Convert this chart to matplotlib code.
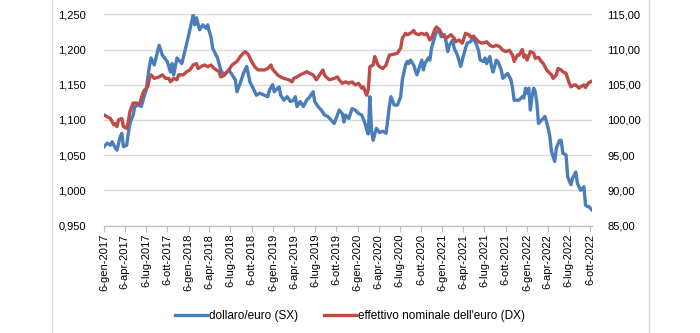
import matplotlib
matplotlib.use("Agg")
import matplotlib.pyplot as plt
from matplotlib.lines import Line2D
from matplotlib.ticker import FuncFormatter
import pandas as pd

# weeks since 6-gen-2017
start = pd.Timestamp("2017-01-06")

blue_weeks = [0, 2, 4, 5, 7, 8, 10, 11, 12, 14, 15, 16, 18, 19, 21, 23, 25, 26, 27, 28,
              29, 31, 34, 36, 39, 41, 42, 43, 45, 48, 50, 52, 55, 56, 57, 59, 61, 63, 64, 65,
              66, 67, 70, 72, 74, 77, 79, 81, 82, 84, 86, 88, 90, 92, 94, 96, 99, 101, 102, 104,
              105, 108, 109, 111, 113, 115, 117, 118, 119, 121, 123, 125, 127, 129, 130, 132, 134, 136, 138, 140,
              142, 144, 145, 147, 148, 149, 151, 153, 155, 157, 159, 161, 162, 163, 164, 165, 166, 168, 170, 172,
              174, 176, 177, 179, 181, 183, 184, 186, 187, 188, 189, 191, 193, 194, 196, 197, 198, 200, 201, 202,
              204, 205, 207, 208, 210, 211, 212, 213, 215, 216, 218, 220, 221, 223, 224, 226, 227, 229, 231, 232,
              234, 235, 236, 238, 239, 240, 242, 243, 245, 246, 248, 249, 251, 252, 253, 255, 256, 258, 259, 260,
              261, 262, 263, 264, 265, 266, 267, 268, 270, 271, 272, 274, 275, 276, 278, 279, 281, 282, 283, 285,
              286, 288, 289, 291, 292, 294, 295, 296, 297, 298, 299, 301]
dollaro_euro = [1.062, 1.067, 1.064, 1.069, 1.060, 1.057, 1.076, 1.081, 1.062, 1.064, 1.081, 1.095, 1.107, 1.119, 1.121, 1.119, 1.135, 1.142, 1.160, 1.176,
                1.188, 1.178, 1.206, 1.192, 1.183, 1.168, 1.180, 1.164, 1.188, 1.180, 1.199, 1.218, 1.249, 1.235, 1.245, 1.228, 1.235, 1.230, 1.235, 1.225,
                1.218, 1.202, 1.188, 1.171, 1.164, 1.171, 1.164, 1.157, 1.140, 1.152, 1.166, 1.176, 1.154, 1.145, 1.135, 1.138, 1.135, 1.133, 1.142, 1.150,
                1.140, 1.147, 1.135, 1.128, 1.133, 1.126, 1.128, 1.133, 1.119, 1.126, 1.119, 1.128, 1.133, 1.140, 1.126, 1.119, 1.114, 1.107, 1.105, 1.100,
                1.095, 1.107, 1.114, 1.109, 1.097, 1.107, 1.102, 1.116, 1.114, 1.109, 1.107, 1.095, 1.086, 1.080, 1.133, 1.085, 1.071, 1.088, 1.082, 1.084,
                1.081, 1.119, 1.133, 1.121, 1.121, 1.133, 1.157, 1.178, 1.183, 1.180, 1.185, 1.178, 1.164, 1.171, 1.185, 1.171, 1.180, 1.188, 1.185, 1.202,
                1.218, 1.225, 1.225, 1.218, 1.221, 1.211, 1.197, 1.206, 1.213, 1.202, 1.192, 1.176, 1.185, 1.202, 1.209, 1.211, 1.216, 1.211, 1.199, 1.185,
                1.183, 1.188, 1.180, 1.190, 1.176, 1.168, 1.185, 1.183, 1.171, 1.159, 1.164, 1.166, 1.157, 1.145, 1.128, 1.128, 1.128, 1.133, 1.131, 1.145,
                1.138, 1.145, 1.114, 1.133, 1.145, 1.140, 1.124, 1.095, 1.100, 1.102, 1.105, 1.088, 1.076, 1.055, 1.041, 1.060, 1.071, 1.071, 1.053, 1.050,
                1.019, 1.008, 1.017, 1.026, 1.010, 1.000, 1.002, 1.005, 0.979, 0.977, 0.977, 0.972]

red_weeks = [0, 2, 4, 6, 7, 8, 9, 11, 12, 14, 15, 16, 18, 20, 22, 24, 25, 27, 28, 29,
             31, 34, 36, 38, 40, 41, 43, 45, 46, 49, 51, 53, 55, 57, 58, 60, 62, 64, 66, 68,
             71, 72, 74, 77, 79, 82, 84, 86, 87, 89, 91, 93, 95, 97, 99, 101, 103, 104, 107, 109,
             111, 114, 116, 117, 119, 121, 123, 125, 127, 129, 131, 133, 135, 136, 137, 139, 142, 144, 145, 147,
             149, 151, 153, 155, 157, 159, 160, 162, 163, 164, 166, 167, 169, 170, 172, 174, 176, 178, 180, 181,
             183, 184, 186, 187, 189, 191, 192, 194, 196, 198, 199, 201, 202, 204, 205, 207, 208, 210, 211, 214,
             216, 217, 219, 221, 223, 225, 226, 228, 229, 231, 233, 235, 236, 238, 240, 242, 244, 246, 248, 250,
             252, 253, 255, 256, 258, 259, 260, 261, 263, 265, 266, 268, 269, 271, 273, 274, 276, 277, 279, 280,
             282, 283, 285, 287, 288, 290, 291, 293, 294, 296, 297, 299, 301]
effettivo_euro = [100.7, 100.45, 100.2, 99.3, 99.5, 99.05, 100.0, 100.2, 99.05, 98.8, 99.75, 101.2, 102.4, 102.4, 102.3, 103.8, 104.25, 104.7, 105.9, 106.4,
                  105.9, 106.1, 106.4, 105.9, 105.9, 105.4, 105.9, 105.7, 106.4, 106.4, 106.85, 107.1, 107.8, 108.0, 107.3, 107.6, 107.8, 107.55, 107.8, 107.3,
                  106.85, 106.1, 106.3, 107.1, 107.8, 108.3, 109.0, 109.5, 109.7, 109.3, 108.3, 107.55, 107.1, 107.1, 107.1, 107.3, 107.8, 107.2, 106.4, 106.1,
                  105.9, 105.7, 105.4, 105.9, 106.1, 106.4, 106.6, 106.85, 106.6, 106.4, 105.7, 106.4, 107.1, 106.4, 106.1, 105.7, 105.9, 106.1, 105.7, 105.2,
                  105.4, 105.2, 105.4, 104.96, 105.2, 104.5, 104.7, 103.5, 104.25, 107.55, 107.8, 109.0, 107.8, 107.55, 107.3, 107.8, 109.2, 109.3, 109.4, 109.5,
                  110.2, 111.6, 112.3, 112.1, 112.3, 112.7, 112.3, 112.1, 112.3, 112.1, 112.3, 111.35, 111.6, 112.8, 113.2, 112.8, 112.3, 111.8, 111.6, 112.1,
                  111.6, 111.1, 111.35, 110.9, 112.3, 112.1, 111.8, 111.9, 111.6, 111.1, 110.9, 111.0, 111.1, 110.6, 110.4, 110.6, 110.4, 109.9, 109.7, 109.9,
                  109.2, 108.3, 109.2, 109.2, 110.0, 108.9, 109.2, 108.5, 109.7, 109.5, 108.75, 108.9, 108.5, 108.0, 107.1, 106.85, 106.4, 105.9, 106.4, 107.3,
                  107.1, 106.85, 106.6, 105.2, 104.7, 104.96, 104.96, 104.5, 104.7, 104.96, 104.6, 105.3, 105.5]

mesi = ["gen", "apr", "lug", "ott"]
anni = [2017, 2018, 2019, 2020, 2021, 2022]
mese_num = [1, 4, 7, 10]

blue_dates = [start + pd.Timedelta(weeks=w) for w in blue_weeks]
red_dates = [start + pd.Timedelta(weeks=w) for w in red_weeks]

tick_dates = []
tick_labels = []
for a in anni:
    for m, nome in zip(mese_num, mesi):
        tick_dates.append(pd.Timestamp(a, m, 6))
        tick_labels.append("6-" + nome + "-" + str(a))

plt.rcParams["font.family"] = ["Liberation Sans", "DejaVu Sans"]

fig = plt.figure(figsize=(7, 3.33), dpi=100)
ax = fig.add_axes([104 / 700, 1 - 225.5 / 333, 488 / 700, 211.2 / 333])
ax2 = ax.twinx()

blu = "#4A7EBB"
rosso = "#BE4B48"
griglia = "#D9D9D9"

l1, = ax.plot(blue_dates, dollaro_euro, color=blu, lw=2.4, solid_joinstyle="round")
l2, = ax2.plot(red_dates, effettivo_euro, color=rosso, lw=2.4, solid_joinstyle="round")

ax.set_ylim(0.95, 1.25)
ax.set_yticks([0.95, 1.0, 1.05, 1.1, 1.15, 1.2, 1.25])
ax.yaxis.set_major_formatter(FuncFormatter(lambda v, p: ("%.3f" % v).replace(".", ",")))
ax2.set_ylim(85, 115)
ax2.set_yticks([85, 90, 95, 100, 105, 110, 115])
ax2.yaxis.set_major_formatter(FuncFormatter(lambda v, p: ("%.2f" % v).replace(".", ",")))

ax.set_xlim(start, start + pd.Timedelta(weeks=301))
ax.set_xticks(tick_dates)
ax.set_xticklabels(tick_labels, rotation=90, fontsize=8)

ax.grid(axis="y", color=griglia, lw=1)
ax.set_axisbelow(True)
for a in (ax, ax2):
    for s in ("top", "left", "right"):
        a.spines[s].set_visible(False)
    a.spines["bottom"].set_color("#BFBFBF")
ax.tick_params(axis="y", length=0, labelsize=8, pad=13)
ax2.tick_params(axis="y", length=0, labelsize=8, pad=11)
ax.tick_params(axis="x", length=4, color="#BFBFBF", pad=2)

fig.legend([l1, l2], ["dollaro/euro (SX)", "effettivo nominale dell'euro (DX)"],
           loc="center", bbox_to_anchor=(0.5, 0.051), ncol=2, frameon=False,
           fontsize=8.5, handlelength=2.7, handletextpad=0.2, columnspacing=2.2)

# bordo del grafico
fig.add_artist(Line2D([52 / 700, 52 / 700], [0, 1], color=griglia, lw=1))
fig.add_artist(Line2D([649 / 700, 649 / 700], [0, 1], color=griglia, lw=1))

plt.savefig("out.png", dpi=100)
